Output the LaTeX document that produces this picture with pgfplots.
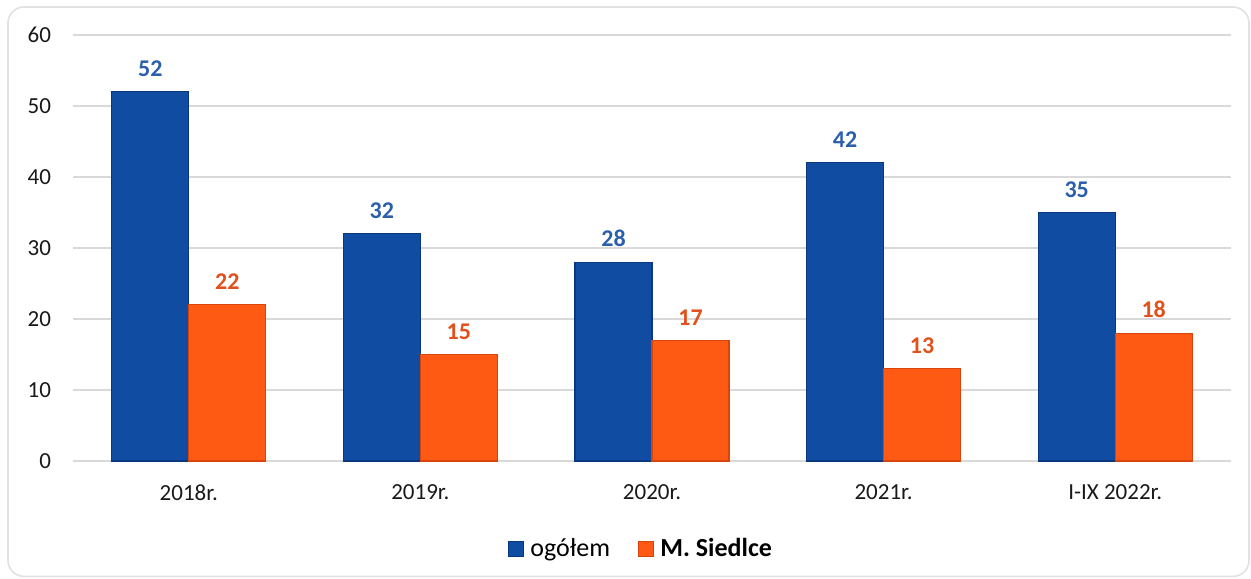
\documentclass[border=0pt]{standalone}
\usepackage{pgfplots}
\pgfplotsset{compat=1.18}
\usepackage{fontspec}
\setmainfont{Carlito}
\definecolor{bluefill}{HTML}{104CA2}
\definecolor{blueedge}{HTML}{0A3880}
\definecolor{orfill}{HTML}{FF5A14}
\definecolor{oredge}{HTML}{D8450C}
\definecolor{bluelab}{HTML}{2B5EAB}
\definecolor{orlab}{HTML}{E2501C}
\definecolor{gridc}{HTML}{D9D9D9}
\begin{document}
\begin{tikzpicture}
\useasboundingbox (0,0) rectangle (625.5pt,289pt);
\draw[color=gridc!80!white, line width=0.8pt, rounded corners=8pt] (4pt,0.8pt) rectangle (624.5pt,285.5pt);
\begin{axis}[
  at={(36.5pt,58.5pt)}, anchor=south west,
  scale only axis, width=579pt, height=213pt,
  xmin=-0.5, xmax=4.5, ymin=0, ymax=60,
  ytick={0,10,20,30,40,50,60},
  xtick={0,1,2,3,4},
  xticklabels={2018r.,2019r.,2020r.,2021r.,I-IX 2022r.},
  ymajorgrids, grid style={draw=gridc, line width=0.8pt},
  axis line style={draw=none},
  tick style={draw=none},
  major tick length=0pt,
  /pgf/number format/assume math mode=true,
  tick label style={font=\fontsize{11.5}{13}\selectfont, text=black!90},
  xticklabel style={yshift=-8.5pt},
  yticklabel style={xshift=-7.5pt},
  ybar=0pt, bar width=38.5pt,
  nodes near coords,
  every node near coord/.append style={font=\fontsize{12}{14}\selectfont\bfseries, yshift=4pt},
  legend columns=2,
  legend style={at={(0.5,-0.207)}, anchor=center, xshift=-5pt, draw=none, fill=none,
    font=\fontsize{13}{15}\selectfont, /tikz/every even column/.append style={column sep=12pt}},
  legend image code/.code={\draw[#1] (0pt,-3.8pt) rectangle (7.6pt,3.8pt);},
]
\addplot[fill=bluefill, draw=blueedge, line width=0.6pt, every node near coord/.append style={text=bluelab}]
  coordinates {(0,52) (1,32) (2,28) (3,42) (4,35)};
\addplot[fill=orfill, draw=oredge, line width=0.6pt, every node near coord/.append style={text=orlab}]
  coordinates {(0,22) (1,15) (2,17) (3,13) (4,18)};
\legend{\hspace{1pt}og\'o\l em, \hspace{1pt}\textbf{M. Siedlce}}
\end{axis}
\end{tikzpicture}
\end{document}
